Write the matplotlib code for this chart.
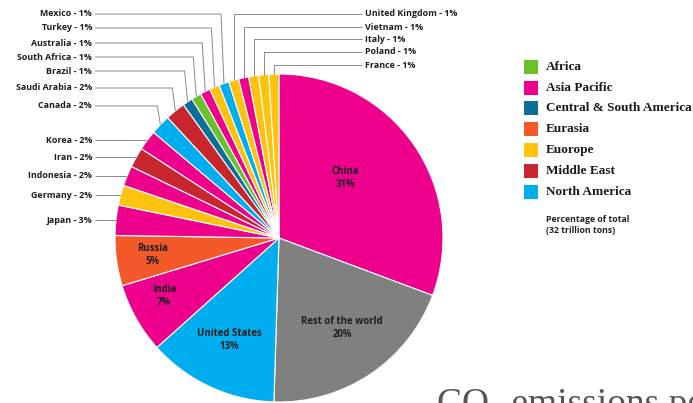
import matplotlib
matplotlib.use("Agg")
import matplotlib.pyplot as plt
import numpy as np

# Share of cumulative CO2 emissions, clockwise from 12 o'clock
countries = ["China", "Rest of the world", "United States", "India", "Russia",
             "Japan", "Germany", "Indonesia", "Iran", "Korea", "Canada",
             "Saudi Arabia", "Brazil", "South Africa", "Australia", "Turkey",
             "Mexico", "United Kingdom", "Vietnam", "Italy", "Poland", "France"]
shares = [31, 20, 13, 7, 5, 3, 2, 2, 2, 2, 2, 2, 1, 1, 1, 1, 1, 1, 1, 1, 1, 1]
regions = ["Asia Pacific", "Other", "North America", "Asia Pacific", "Eurasia",
           "Asia Pacific", "Europe", "Asia Pacific", "Middle East", "Asia Pacific",
           "North America", "Middle East", "Central & South America", "Africa",
           "Asia Pacific", "Europe", "North America", "Europe", "Asia Pacific",
           "Europe", "Europe", "Europe"]

legend_labels = ["Africa", "Asia Pacific", "Central & South America", "Eurasia",
                 "Euorope", "Middle East", "North America"]
legend_keys = ["Africa", "Asia Pacific", "Central & South America", "Eurasia",
               "Europe", "Middle East", "North America"]

region_colors = {
    "Africa": "#6cc02b",
    "Asia Pacific": "#ec008c",
    "Central & South America": "#0b6f98",
    "Eurasia": "#f4592a",
    "Europe": "#ffc20e",
    "Middle East": "#c8262f",
    "North America": "#00aeef",
    "Other": "#808080",
}

W, H = 693, 403
fig = plt.figure(figsize=(W / 100, H / 100), dpi=100)
ax = fig.add_axes([0, 0, 1, 1])

cx, cy, R = 279, H - 238, 164
colors = [region_colors[r] for r in regions]
wedges, _ = ax.pie(shares, colors=colors, startangle=90, counterclock=False,
                   center=(cx, cy), radius=R,
                   wedgeprops=dict(edgecolor="white", linewidth=0.8))
ax.set_xlim(0, W)
ax.set_ylim(0, H)
ax.set_aspect("equal")
ax.axis("off")

def py(y):
    return H - y

label_font = dict(family=["Open Sans", "DejaVu Sans"], fontweight="bold",
                  fontsize=6.4, color="#1e1e1e")
line_kw = dict(color="#8a8a8a", lw=0.7, solid_capstyle="butt")

def edge_point(name):
    w = wedges[countries.index(name)]
    mid = np.deg2rad((w.theta1 + w.theta2) / 2)
    return cx + R * np.cos(mid), cy + R * np.sin(mid)

def label_text(name):
    return f"{name} - {shares[countries.index(name)]}%"

# Small slices above the pie, labelled on the left
left_top = [("Mexico", 14), ("Turkey", 28), ("Australia", 43),
            ("South Africa", 57), ("Brazil", 71), ("Saudi Arabia", 88),
            ("Canada", 106)]
for name, y in left_top:
    ex, ey = edge_point(name)
    ax.plot([95, ex - 3, ex], [py(y), py(y), ey], **line_kw)
    ax.text(92, py(y), label_text(name), ha="right", va="center", **label_font)

# Small slices above the pie, labelled on the right
right_top = [("United Kingdom", 14), ("Vietnam", 27), ("Italy", 39),
             ("Poland", 52), ("France", 65)]
for name, y in right_top:
    ex, ey = edge_point(name)
    ax.plot([362, ex, ex], [py(y), py(y), ey], **line_kw)
    ax.text(365, py(y), label_text(name), ha="left", va="center", **label_font)

# Slices on the left side, labelled straight across
for name in ["Korea", "Iran", "Indonesia", "Germany", "Japan"]:
    ex, ey = edge_point(name)
    ax.plot([95, ex], [ey, ey], **line_kw)
    ax.text(92, ey, label_text(name), ha="right", va="center", **label_font)

# Labels inside the large slices
inside = [("China", 345, 178), ("Rest of the world", 342, 328),
          ("United States", 229, 340), ("India", 164, 296), ("Russia", 153, 255)]
for name, x, y in inside:
    ax.text(x, py(y), f"{name}\n{shares[countries.index(name)]}%",
            ha="center", va="center", linespacing=1.35,
            **{**label_font, "fontsize": 6.9})

# Region legend
leg_y = [67, 88, 108, 129, 150, 171, 192]
for key, lab, y in zip(legend_keys, legend_labels, leg_y):
    ax.add_patch(plt.Rectangle((524, py(y) - 7), 14, 14,
                               color=region_colors[key], lw=0))
    ax.text(546, py(y), lab, ha="left", va="center",
            family=["Liberation Serif", "DejaVu Serif"], fontweight="bold",
            fontsize=9.5, color="#1a1a1a")

ax.text(546, py(225), "Percentage of total\n(32 trillion tons)", ha="left",
        va="center", linespacing=1.2, family=["Open Sans", "DejaVu Sans"],
        fontweight="bold", fontsize=6.3, color="#222222")

# Title, running off the lower edge
ax.text(437, py(414), "CO₂ emissions per country", ha="left", va="baseline",
        family=["Liberation Serif", "DejaVu Serif"], fontsize=27,
        color="#555555", clip_on=False)

fig.savefig("out.png", dpi=100)
